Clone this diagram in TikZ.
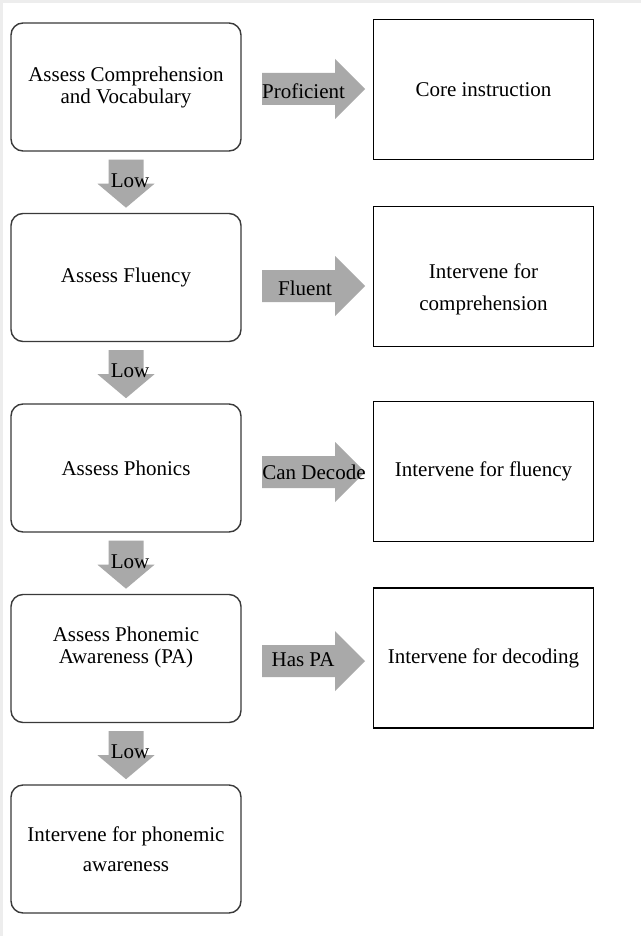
\documentclass[tikz,border=0pt]{standalone}
\usepackage{fontspec}
\setmainfont{Liberation Serif}
\definecolor{arrowgray}{HTML}{A9A9A9}
\definecolor{boxline}{HTML}{3A3A3A}
\tikzstyle{stepbox}=[shape=rectangle,draw=boxline,line width=1.4pt,rounded corners=12pt,minimum width=230pt,minimum height=128pt,align=center]
\tikzstyle{resultbox}=[shape=rectangle,draw,line width=1.2pt,minimum width=220pt,minimum height=140pt,align=center]
\tikzstyle{blockarrow}=[fill=arrowgray]
\tikzstyle{arrowlabel}=[inner sep=0pt]

\begin{document}
\begin{tikzpicture}[x=1pt, y=-1pt, font=\fontsize{21}{22}\selectfont]
	\fill[black!7] (0,0) rectangle (641,936);
	\fill[white] (3,3) rectangle (641,936);
	\foreach \name/\pos in {{Assess Comprehension\\and Vocabulary/1}, {Assess Fluency/2}, {Assess Phonics/3}}
	\node[stepbox] (assess\pos) at (126,{87+190.5*(\pos-1)}) {\name};
	\node[stepbox, text depth=26pt] (assess4) at (126,658.5) {Assess Phonemic\\Awareness (PA)};
	\node[stepbox] (assess5) at (126,849) {Intervene for phonemic\\[8pt]awareness};
	\node[resultbox] (result1) at (483.5,89.5) {Core instruction};
	\node[resultbox, text height=73pt] (result2) at (483.5,276.5) {Intervene for\\[10pt]comprehension};
	\node[resultbox] (result3) at (483.5,471.5) {Intervene for fluency};
	\node[resultbox] (result4) at (483.5,658) {Intervene for decoding};
\foreach \source/\dest in {1/2, 2/3, 3/4, 4/5}
	{\fill[blockarrow] ([xshift=-17.5pt,yshift=-8pt]assess\source.south) -- ++(35,0) -- ++(0,24) -- ++(11,0) -- ++(-28.5,24) -- ++(-28.5,-24) -- ++(11,0) -- cycle;
	\node[arrowlabel] (low\source) at ([xshift=4pt,yshift=-29pt]assess\source.south) {Low};}
\foreach \y/\i in {89/1, 286/2, 472/3, 661/4}
	\fill[blockarrow] (262,\y-16) -- (335,\y-16) -- (335,\y-30) -- (365,\y) -- (335,\y+30) -- (335,\y+16) -- (262,\y+16) -- cycle;
	\node[arrowlabel] (answer1) at (303.5,91) {Proficient};
	\node[arrowlabel] (answer2) at (305,288) {Fluent};
	\node[arrowlabel] (answer3) at (314,472) {Can Decode};
	\node[arrowlabel] (answer4) at (303,660) {Has PA};
\end{tikzpicture}
\end{document}
